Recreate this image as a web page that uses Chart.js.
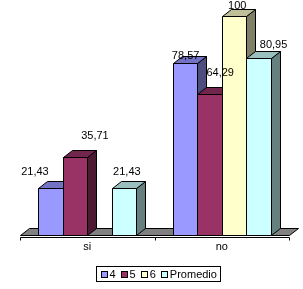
<!DOCTYPE html>
<html><head><meta charset="utf-8">
<script src="https://cdn.jsdelivr.net/npm/chart.js@4/dist/chart.umd.min.js"></script>
<style>html,body{margin:0;padding:0;background:#fff;}canvas{display:block;}</style>
</head><body>
<canvas id="c" width="303" height="289"></canvas>
<script>
const categories = ['si', 'no'];
const seriesNames = ['4', '5', '6', 'Promedio'];
const values4 = [21.43, 78.57];
const values5 = [35.71, 64.29];
const values6 = [null, 100];
const valuesProm = [21.43, 80.95];

const frontColors = ['#9999FF', '#993366', '#FFFFCC', '#CCFFFF'];
const topColors   = ['#7373C6', '#73264D', '#BFBF99', '#99BFBF'];
const sideColors  = ['#4D4D80', '#4D1A33', '#808066', '#668080'];

const FONT = '11px "Liberation Sans", Arial, sans-serif';
const fmt = v => String(v).replace('.', ',');

const bars3d = {
  id: 'bars3d',
  beforeDatasetsDraw(chart, args, o) {
    const ctx = chart.ctx, ca = chart.chartArea;
    const dx = o.dx, dy = o.dy;
    const L = Math.round(ca.left) + 0.5, R = Math.round(ca.right) + 0.5, B = Math.round(ca.bottom) + 0.5;
    ctx.save();
    ctx.lineWidth = 1; ctx.strokeStyle = '#000'; ctx.lineJoin = 'miter';
    // floor
    ctx.fillStyle = o.floor;
    ctx.beginPath();
    ctx.moveTo(L, B); ctx.lineTo(L + dx, B - dy); ctx.lineTo(R + dx, B - dy); ctx.lineTo(R, B);
    ctx.closePath(); ctx.fill(); ctx.stroke();
    // axis line with ticks at category boundaries
    const ay = B + 2;
    const n = chart.data.labels.length, w = (R - L) / n;
    ctx.beginPath();
    ctx.moveTo(L, ay); ctx.lineTo(R, ay);
    for (let i = 0; i <= n; i++) {
      const x = Math.round(L + i * w - 0.5) + 0.5;
      ctx.moveTo(x, ay); ctx.lineTo(x, ay + 3);
    }
    ctx.stroke();
    // bars, left to right
    for (let i = 0; i < n; i++) {
      chart.data.datasets.forEach((ds, d) => {
        const v = ds.data[i];
        if (v === null || v === undefined) return;
        const el = chart.getDatasetMeta(d).data[i];
        const p = el.getProps(['x', 'y', 'base', 'width'], true);
        const l = Math.round(p.x - p.width / 2) + 0.5, r = Math.round(p.x + p.width / 2) + 0.5;
        const t = Math.round(p.y) + 0.5, b = Math.round(p.base) + 0.5;
        // side
        ctx.fillStyle = sideColors[d];
        ctx.beginPath();
        ctx.moveTo(r, t); ctx.lineTo(r + dx, t - dy); ctx.lineTo(r + dx, b - dy); ctx.lineTo(r, b);
        ctx.closePath(); ctx.fill(); ctx.stroke();
        // top
        ctx.fillStyle = topColors[d];
        ctx.beginPath();
        ctx.moveTo(l, t); ctx.lineTo(l + dx, t - dy); ctx.lineTo(r + dx, t - dy); ctx.lineTo(r, t);
        ctx.closePath(); ctx.fill(); ctx.stroke();
        // front
        ctx.fillStyle = frontColors[d];
        ctx.beginPath();
        ctx.rect(l, t, r - l, b - t);
        ctx.fill(); ctx.stroke();
      });
    }
    // data labels
    ctx.fillStyle = '#000'; ctx.font = FONT;
    ctx.textAlign = 'center'; ctx.textBaseline = 'middle';
    chart.data.datasets.forEach((ds, d) => {
      ds.data.forEach((v, i) => {
        if (v === null || v === undefined) return;
        const el = chart.getDatasetMeta(d).data[i];
        const p = el.getProps(['x', 'y'], true);
        const off = o.labelOffsets[d][i];
        ctx.fillText(fmt(v), p.x + off[0], p.y + off[1]);
      });
    });
    ctx.restore();
    return false;
  },
  afterDraw(chart, args, o) {
    const ctx = chart.ctx;
    ctx.save();
    ctx.font = FONT; ctx.textBaseline = 'middle'; ctx.textAlign = 'left';
    const box = 6, gapT = 3, gapI = 5, pad = 4;
    const items = chart.data.datasets.map((ds, d) => ({ text: ds.label, w: ctx.measureText(ds.label).width, d }));
    let total = pad * 2;
    items.forEach((it, k) => { total += box + gapT + it.w + (k < items.length - 1 ? gapI : 0); });
    const fx = Math.round(o.legendCenterX - total / 2) + 0.5;
    const fy = o.legendTop + 0.5, fh = 15;
    ctx.strokeStyle = '#000'; ctx.lineWidth = 1;
    ctx.strokeRect(fx, fy, Math.round(total), fh);
    let x = fx + pad;
    const cy = fy + fh / 2;
    items.forEach(it => {
      const bx = Math.round(x) + 0.5, by = Math.round(cy - box / 2) + 0.5;
      ctx.fillStyle = frontColors[it.d];
      ctx.fillRect(bx, by, box, box);
      ctx.strokeRect(bx, by, box, box);
      x += box + gapT;
      ctx.fillStyle = '#000';
      ctx.fillText(it.text, x, cy + 0.5);
      x += it.w + gapI;
    });
    ctx.restore();
  }
};

new Chart(document.getElementById('c'), {
  type: 'bar',
  data: {
    labels: categories,
    datasets: [
      { label: seriesNames[0], data: values4, backgroundColor: frontColors[0] },
      { label: seriesNames[1], data: values5, backgroundColor: frontColors[1] },
      { label: seriesNames[2], data: values6, backgroundColor: frontColors[2] },
      { label: seriesNames[3], data: valuesProm, backgroundColor: frontColors[3] }
    ]
  },
  options: {
    responsive: false,
    animation: false,
    devicePixelRatio: 1,
    layout: { padding: { left: 20, right: 14, top: 16, bottom: 0 } },
    datasets: { bar: { categoryPercentage: 0.73, barPercentage: 1 } },
    scales: {
      x: {
        grid: { display: false, drawTicks: false },
        border: { display: false },
        ticks: { color: '#000', font: { family: '"Liberation Sans", Arial, sans-serif', size: 11 }, padding: 5 },
        afterFit(s) { s.height = 54; }
      },
      y: { display: false, min: 0, max: 100 }
    },
    plugins: {
      legend: { display: false },
      tooltip: { enabled: false },
      bars3d: {
        dx: 9, dy: 7, floor: '#808080',
        legendCenterX: 158.5, legendTop: 266,
        labelOffsets: [
          [[-15.5, -16], [0.7, -7]],
          [[20, -20.7], [10.7, -21.6]],
          [[0, 0], [3.2, -10.4]],
          [[2.8, -16.3], [15, -13]]
        ]
      }
    }
  },
  plugins: [bars3d]
});
</script>
</body></html>
